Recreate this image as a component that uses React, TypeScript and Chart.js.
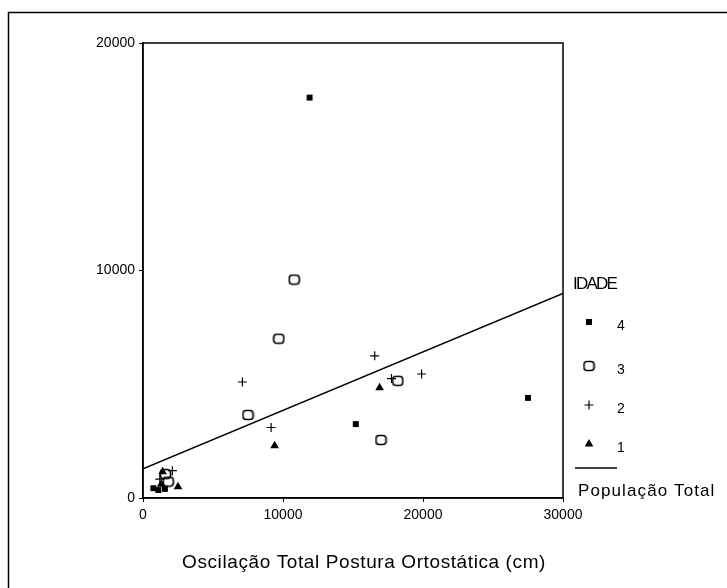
import React, { useEffect, useRef } from "react";
import { Chart, registerables } from "chart.js";

Chart.register(...registerables);

// ---- Data ----
const age4X = [11900, 15200, 27500, 740, 1100, 1570];
const age4Y = [17600, 3250, 4400, 430, 350, 400];
const age3X = [10800, 9700, 7500, 18200, 17000, 1800, 1600];
const age3Y = [9600, 7000, 3650, 5150, 2550, 720, 1050];
const age2X = [7100, 9150, 16550, 17750, 19900, 2100, 1200];
const age2Y = [5100, 3100, 6250, 5250, 5450, 1200, 830];
const age1X = [9400, 16900, 1400, 2500, 1300];
const age1Y = [2300, 4850, 1150, 500, 600];
const fitX = [0, 30000];
const fitY = [1280, 8990];
const xTicks = [0, 10000, 20000, 30000];
const yTicks = [0, 10000, 20000];
const legendTitle = "IDADE";
const legendLabels = ["4", "3", "2", "1"];
const fitLabel = "População Total";
const xTitle = "Oscilação Total Postura Ortostática (cm)";

const FONT = "'Liberation Sans', Arial, sans-serif";

function makeRoundedMarker(): HTMLCanvasElement {
  const c = document.createElement("canvas");
  c.width = 13;
  c.height = 12;
  const ctx = c.getContext("2d")!;
  ctx.strokeStyle = "#000";
  ctx.lineWidth = 1.6;
  ctx.beginPath();
  (ctx as any).roundRect(1.5, 1.5, 10, 9, 3);
  ctx.stroke();
  return c;
}

export default function App() {
  const ref = useRef<HTMLCanvasElement | null>(null);

  useEffect(() => {
    if (!ref.current) return;
    const circleMarker = makeRoundedMarker();

    const pts = (xs: number[], ys: number[]) => xs.map((x, i) => ({ x, y: ys[i] }));

    const decor = {
      id: "decor",
      afterDraw(chart: any) {
        const ctx = chart.ctx as CanvasRenderingContext2D;
        const a = chart.chartArea;
        ctx.save();
        // plot box
        ctx.strokeStyle = "#000";
        ctx.lineWidth = 1.5;
        ctx.strokeRect(a.left, a.top, a.right - a.left, a.bottom - a.top);
        // outer frame
        ctx.lineWidth = 1.5;
        ctx.beginPath();
        ctx.moveTo(8.5, 600);
        ctx.lineTo(8.5, 12.5);
        ctx.lineTo(740, 12.5);
        ctx.stroke();

        // x title
        ctx.fillStyle = "#000";
        ctx.font = `19px ${FONT}`;
        (ctx as any).letterSpacing = "0.6px";
        ctx.textAlign = "center";
        ctx.textBaseline = "middle";
        ctx.fillText(xTitle, 364, 563);

        // legend
        ctx.textAlign = "left";
        ctx.font = `17px ${FONT}`;
        (ctx as any).letterSpacing = "-1.8px";
        ctx.fillText(legendTitle, 573, 284);
        (ctx as any).letterSpacing = "0px";
        ctx.font = `14px ${FONT}`;
        const ys = [322, 366, 405, 444];
        const mx = 589;
        // square
        ctx.fillRect(mx - 3, ys[0] - 3, 6, 6);
        // rounded
        ctx.drawImage(circleMarker, mx - 6.5, ys[1] - 6);
        // plus
        ctx.lineWidth = 1.2;
        ctx.beginPath();
        ctx.moveTo(mx - 4.5, ys[2]);
        ctx.lineTo(mx + 4.5, ys[2]);
        ctx.moveTo(mx, ys[2] - 4.5);
        ctx.lineTo(mx, ys[2] + 4.5);
        ctx.stroke();
        // triangle
        ctx.beginPath();
        ctx.moveTo(mx, ys[3] - 5);
        ctx.lineTo(mx + 4.3, ys[3] + 2.5);
        ctx.lineTo(mx - 4.3, ys[3] + 2.5);
        ctx.closePath();
        ctx.fill();
        legendLabels.forEach((t, i) => ctx.fillText(t, 617, ys[i] + 4));
        // fit line
        ctx.lineWidth = 1.5;
        ctx.beginPath();
        ctx.moveTo(575, 468);
        ctx.lineTo(617, 468);
        ctx.stroke();
        ctx.font = `17px ${FONT}`;
        (ctx as any).letterSpacing = "1.1px";
        ctx.fillText(fitLabel, 578, 491);
        ctx.restore();
      },
    };

    const tickFmt = (v: any) => String(v);

    const chart = new Chart(ref.current, {
      type: "scatter",
      data: {
        datasets: [
          {
            type: "line",
            label: fitLabel,
            data: pts(fitX, fitY),
            borderColor: "#000",
            borderWidth: 1.5,
            pointRadius: 0,
            fill: false,
          } as any,
          {
            label: "4",
            data: pts(age4X, age4Y),
            pointStyle: "rect",
            pointRadius: 4.2,
            backgroundColor: "#000",
            borderColor: "#000",
            borderWidth: 0,
          },
          {
            label: "3",
            data: pts(age3X, age3Y),
            pointStyle: circleMarker as any,
            pointRadius: 6,
          },
          {
            label: "2",
            data: pts(age2X, age2Y),
            pointStyle: "cross",
            pointRadius: 4.5,
            borderColor: "#000",
            borderWidth: 1.2,
          },
          {
            label: "1",
            data: pts(age1X, age1Y),
            pointStyle: "triangle",
            pointRadius: 5,
            backgroundColor: "#000",
            borderColor: "#000",
            borderWidth: 0,
          },
        ],
      },
      options: {
        responsive: false,
        animation: false,
        events: [],
        layout: { padding: { left: 0, top: 43, right: 164, bottom: 60 } },
        plugins: { legend: { display: false }, tooltip: { enabled: false } },
        scales: {
          x: {
            type: "linear",
            min: 0,
            max: 30000,
            afterBuildTicks: (s: any) => {
              s.ticks = xTicks.map((v) => ({ value: v }));
            },
            afterFit: (s: any) => {
              s.height = 30;
            },
            grid: { drawOnChartArea: false, drawTicks: true, tickLength: 4, color: "#000" },
            border: { color: "#000", width: 1.5 },
            ticks: { color: "#000", font: { family: FONT, size: 14 }, padding: 5, maxRotation: 0, callback: tickFmt },
          },
          y: {
            type: "linear",
            min: 0,
            max: 20000,
            afterBuildTicks: (s: any) => {
              s.ticks = yTicks.map((v) => ({ value: v }));
            },
            afterFit: (s: any) => {
              s.width = 143;
            },
            grid: { drawOnChartArea: false, drawTicks: true, tickLength: 4, color: "#000" },
            border: { color: "#000", width: 1.5 },
            ticks: { color: "#000", font: { family: FONT, size: 14 }, padding: 4, callback: tickFmt },
          },
        },
      },
      plugins: [decor],
    } as any);
    return () => chart.destroy();
  }, []);

  return (
    <div style={{ position: "fixed", left: 0, top: 0, width: 727, height: 588, background: "#fff" }}>
      <canvas ref={ref} width={727} height={588} style={{ display: "block" }} />
    </div>
  );
}
